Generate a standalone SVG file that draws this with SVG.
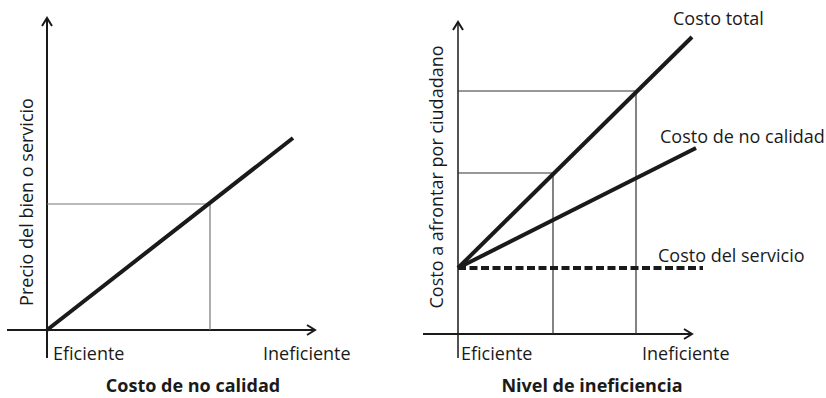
<svg xmlns="http://www.w3.org/2000/svg" width="826" height="398" viewBox="0 0 826 398">
<defs>
<marker id="arr" viewBox="0 0 12 12" refX="10" refY="6" markerWidth="12" markerHeight="12" markerUnits="userSpaceOnUse" orient="auto">
<path d="M2,1 L10,6 L2,11" fill="none" stroke="#1a1a1a" stroke-width="2"/>
</marker>
</defs>
<style>
.ax{stroke:#1a1a1a;stroke-width:2;fill:none}
.thick{stroke:#1a1a1a;stroke-width:4;stroke-linecap:butt;fill:none}
.thin{stroke:#777;stroke-width:1.2;fill:none}
.thin2{stroke:#333;stroke-width:1.2;fill:none}
.dash{stroke:#1a1a1a;stroke-width:4;stroke-dasharray:8 3.5;fill:none}
text{font-family:"Open Sans","Liberation Sans",sans-serif;font-size:18px;fill:#1a1a1a}
.b{font-weight:bold}
</style>
<rect width="826" height="398" fill="#fff"/>
<g id="connectors">
<line class="ax" x1="47" y1="358" x2="47" y2="18" marker-end="url(#arr)"/>
<line class="ax" x1="7" y1="330" x2="315" y2="330" marker-end="url(#arr)"/>
<polyline class="thin" points="47,204 210,204 210,330"/>
<line class="thick" x1="47" y1="330" x2="293" y2="138"/>
<line class="ax" x1="458" y1="358" x2="458" y2="22" marker-end="url(#arr)" style="stroke-width:1.5"/>
<line class="ax" x1="423" y1="334" x2="692" y2="334" marker-end="url(#arr)"/>
<polyline class="thin2" points="458,91 636,91 636,334"/>
<polyline class="thin2" points="458,173 553,173 553,334"/>
<line class="thick" x1="458" y1="268" x2="692" y2="37"/>
<line class="thick" x1="458" y1="268" x2="696" y2="148"/>
<line class="dash" x1="458" y1="268" x2="703" y2="268"/>
</g>
<g id="left-labels">
<text x="53" y="360">Eficiente</text>
<text x="263" y="360">Ineficiente</text>
<text class="b" x="193" y="392" text-anchor="middle">Costo de no calidad</text>
<text transform="translate(33,202) rotate(-90)" text-anchor="middle">Precio del bien o servicio</text>
</g>
<g id="right-labels">
<text x="461" y="360">Eficiente</text>
<text x="642" y="360">Ineficiente</text>
<text class="b" x="592" y="392" text-anchor="middle">Nivel de ineficiencia</text>
<text transform="translate(443,177) rotate(-90)" text-anchor="middle">Costo a afrontar por ciudadano</text>
<text x="673" y="25">Costo total</text>
<text x="660" y="143">Costo de no calidad</text>
<text x="658" y="262">Costo del servicio</text>
</g>
</svg>
